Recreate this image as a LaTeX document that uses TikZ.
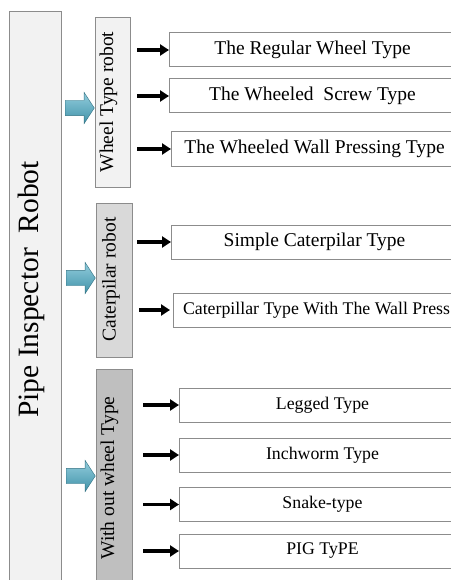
\documentclass[tikz,border=0pt]{standalone}
\usepackage{fontspec}
\setmainfont{Liberation Serif}
\usetikzlibrary{arrows.meta,shapes.arrows}
\definecolor{boxline}{HTML}{8C8C8C}
\definecolor{fillA}{HTML}{F2F2F2}
\definecolor{fillB}{HTML}{D9D9D9}
\definecolor{fillC}{HTML}{BFBFBF}
\definecolor{cyanarrow}{HTML}{4BACC6}
\begin{document}
\begin{tikzpicture}[x=1pt,y=-1pt,
    catbox/.style={draw=boxline,line width=1pt,inner sep=0pt},
    cattext/.style={rotate=90,font=\fontsize{19.5}{20}\selectfont,inner sep=0pt},
    leaf/.style={draw=boxline,line width=1pt,anchor=west,minimum width=286,minimum height=34,inner sep=0pt},
    bigfont/.style={font=\fontsize{19.5}{20}\selectfont},
    smallfont/.style={font=\fontsize{17.8}{18}\selectfont},
    blk/.style={-{Triangle[length=9pt,width=11pt]},line width=3.5pt},
    bigarrow/.style={single arrow,draw=cyanarrow!65!black,top color=cyanarrow!60!white,bottom color=cyanarrow!85!black,
        minimum height=29,single arrow head extend=8,single arrow tip angle=114,inner sep=7.5,anchor=tip}]
\useasboundingbox (0,0) rectangle (450,580);
% main block
\node[catbox,fill=fillA,minimum width=52,minimum height=588] (root) at (35,306) {};
\node[rotate=90,font=\fontsize{29.5}{30}\selectfont,inner sep=0pt] (roottext) at (31.5,289.5) {Pipe Inspector\ \ Robot};
% groups
\node[catbox,fill=fillA,minimum width=35,minimum height=169] (wheel) at (112.5,102.5) {};
\node[cattext] (wheeltext) at (108.5,102) {Wheel Type robot};
\node[catbox,fill=fillB,minimum width=36,minimum height=154] (cater) at (114,280) {};
\node[cattext] (catertext) at (111,279.5) {Caterpilar robot};
\node[catbox,fill=fillC,minimum width=36,minimum height=240] (nowheel) at (114,489) {};
\node[cattext] (nowheeltext) at (109.5,478) {With out wheel Type};
\node[bigarrow] (a1) at (wheel.west |- 0,108) {};
\node[bigarrow] (a2) at (cater.west |- 0,278) {};
\node[bigarrow] (a3) at (nowheel.west |- 0,476) {};
% leaves
\node[leaf,bigfont] (regular) at (169,50) {The Regular Wheel Type};
\node[leaf,bigfont] (screw) at (169,96) {The Wheeled\ \ Screw Type};
\node[leaf,bigfont] (wallpress) at (171,149) {The Wheeled Wall Pressing Type};
\node[leaf,bigfont] (simple) at (171,242) {Simple Caterpilar Type};
\node[leaf,smallfont] (caterwall) at (173,310) {Caterpillar Type With The Wall Press};
\node[leaf,smallfont] (legged) at (179,405) {Legged Type};
\node[leaf,smallfont] (inchworm) at (179,455) {Inchworm Type};
\node[leaf,smallfont] (snake) at (179,504.5) {Snake-type};
\node[leaf,smallfont] (pig) at (179,551) {PIG TyPE};
\coordinate (s1) at (137,50);
\coordinate (s2) at (137,96);
\coordinate (s3) at (137,149);
\coordinate (s4) at (137,242);
\coordinate (s5) at (139,310);
\coordinate (s6) at (143,405);
\coordinate (s7) at (143,455);
\coordinate (s8) at (143,504.5);
\coordinate (s9) at (143,551);
\draw[blk] (s1) -- (regular.west);
\draw[blk] (s2) -- (screw.west);
\draw[blk] (s3) -- (wallpress.west);
\draw[blk] (s4) -- (simple.west);
\draw[blk] (s5) -- ([xshift=-3]caterwall.west);
\draw[blk] (s6) -- (legged.west);
\draw[blk] (s7) -- (inchworm.west);
\draw[blk] (s8) -- (snake.west);
\draw[blk] (s9) -- (pig.west);
\end{tikzpicture}
\end{document}
